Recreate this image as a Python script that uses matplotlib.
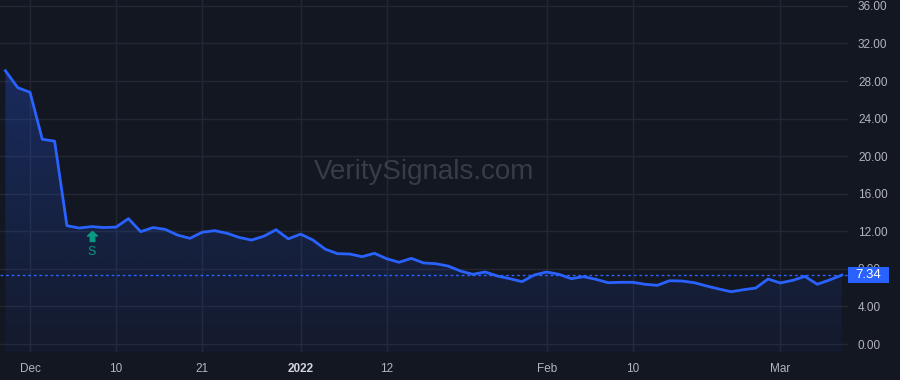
import numpy as np
import pandas as pd
import matplotlib
matplotlib.use("Agg")
import matplotlib.pyplot as plt
from matplotlib.path import Path
from matplotlib.patches import Polygon, Rectangle
import matplotlib.transforms as mtransforms

plt.rcParams['font.family'] = ['Liberation Sans', 'DejaVu Sans']

# trading days, Nov 29 2021 .. Mar 8 2022 (US market holidays skipped)
holidays = ['2021-12-24', '2022-01-17', '2022-02-21']
dates = pd.bdate_range('2021-11-29', '2022-03-08', freq='C', holidays=holidays)

close = [29.1, 27.3, 26.8, 21.8, 21.6, 12.6, 12.35, 12.5, 12.4, 12.45,
         13.35, 11.96, 12.4, 12.2, 11.6, 11.25, 11.9, 12.07, 11.8, 11.35,
         11.07, 11.47, 12.17, 11.2, 11.7, 11.07, 10.1, 9.62, 9.58, 9.3,
         9.66, 9.08, 8.7, 9.12, 8.63, 8.55, 8.3, 7.77, 7.42, 7.67,
         7.24, 6.96, 6.64, 7.35, 7.67, 7.42, 6.96, 7.17, 6.89, 6.53,
         6.57, 6.57, 6.36, 6.25, 6.74, 6.71, 6.53, 6.18, 5.86, 5.57,
         5.78, 5.96, 6.92, 6.5, 6.78, 7.2, 6.36, 6.82, 7.34]

tick_dates = ['2021-12-01', '2021-12-10', '2021-12-21', '2022-01-03',
              '2022-01-12', '2022-02-01', '2022-02-10', '2022-03-01']
tick_labels = ['Dec', '10', '21', '2022', '12', 'Feb', '10', 'Mar']
y_ticks = np.arange(0, 37, 4)
signal_date = '2021-12-08'
signal_text = 'S'

BG = '#131722'
GRID = '#232733'
TXT = '#b2b5be'
BLUE = '#2962ff'

x = np.arange(len(close))
xt = [dates.get_loc(pd.Timestamp(d)) for d in tick_dates]

fig = plt.figure(figsize=(9, 3.8), dpi=100, facecolor=BG)
ax = fig.add_axes([0, 28 / 380, 848 / 900, 352 / 380])
ax.set_facecolor(BG)
ax.set_xlim(-0.44, 68.5)
ax.set_ylim(-0.85, 36.63)
ymin, ymax = ax.get_ylim()
px_per_unit = 352 / (ymax - ymin)

# grid
for v in y_ticks:
    ax.axhline(v, color=GRID, lw=1, zorder=0)
for t in xt:
    ax.axvline(t, color=GRID, lw=1, zorder=0)

# gradient area under the line
grad = np.linspace(0, 1, 256).reshape(-1, 1)
rgba = np.zeros((256, 1, 4))
rgba[..., 0] = 41 / 255
rgba[..., 1] = 98 / 255
rgba[..., 2] = 1.0
rgba[..., 3] = 0.05 + 0.22 * grad
img = ax.imshow(rgba, aspect='auto', origin='lower',
                extent=[x[0], x[-1], ymin, max(close)], zorder=1)
poly = Polygon(np.column_stack([np.r_[x[0], x, x[-1]], np.r_[ymin, close, ymin]]),
               closed=True, facecolor='none', edgecolor='none')
ax.add_patch(poly)
img.set_clip_path(poly)

ax.plot(x, close, color=BLUE, lw=2, zorder=3, solid_joinstyle='round')

# last price line and label
ax.axhline(close[-1], color=BLUE, lw=1, ls=(0, (2, 2)), zorder=2)
trans = mtransforms.blended_transform_factory(ax.transAxes, ax.transData)
half = 8 / px_per_unit
ax.add_patch(Rectangle((1.0, close[-1] - half), 41 / 848, 2 * half,
                       transform=trans, fc=BLUE, ec='none', clip_on=False,
                       zorder=5))
ax.text(1.0 + 20.5 / 848, close[-1], '%.2f' % close[-1], transform=trans,
        ha='center', va='center', color='white', fontsize=9.5, zorder=6,
        clip_on=False)

# signal marker
arrow = Path([(0, 1), (-1, 0.1), (-0.45, 0.1), (-0.45, -1), (0.45, -1),
              (0.45, 0.1), (1, 0.1), (0, 1)],
             [Path.MOVETO] + [Path.LINETO] * 6 + [Path.CLOSEPOLY])
si = dates.get_loc(pd.Timestamp(signal_date))
off = mtransforms.offset_copy(ax.transData, fig=fig, y=-9.5, units='dots')
ax.plot([x[si]], [close[si]], marker=arrow, ms=7.2, color='#089981',
        ls='none', transform=off, zorder=4)
off2 = mtransforms.offset_copy(ax.transData, fig=fig, y=-25, units='dots')
ax.text(x[si], close[si], signal_text, transform=off2, ha='center',
        va='center', color='#089981', fontsize=9, zorder=4)

# watermark
fig.text(0.471, 1 - 172 / 380, 'VeritySignals.com', ha='center', va='center',
         color='#383c47', fontsize=20, zorder=0)

# axes styling
for s in ax.spines.values():
    s.set_visible(False)
ax.yaxis.tick_right()
ax.set_yticks(y_ticks)
ax.set_yticklabels(['%.2f' % v for v in y_ticks])
ax.set_xticks(xt)
ax.set_xticklabels(tick_labels)
ax.tick_params(axis='y', length=0, pad=7.2, colors=TXT, labelsize=8.5)
ax.tick_params(axis='x', length=0, pad=8, colors=TXT, labelsize=8.5)
for lab in ax.get_xticklabels():
    if lab.get_text().isdigit() and len(lab.get_text()) == 4:
        lab.set_fontweight('bold')
        lab.set_color('#d1d4dc')

fig.savefig('out.png', dpi=100, facecolor=BG)
